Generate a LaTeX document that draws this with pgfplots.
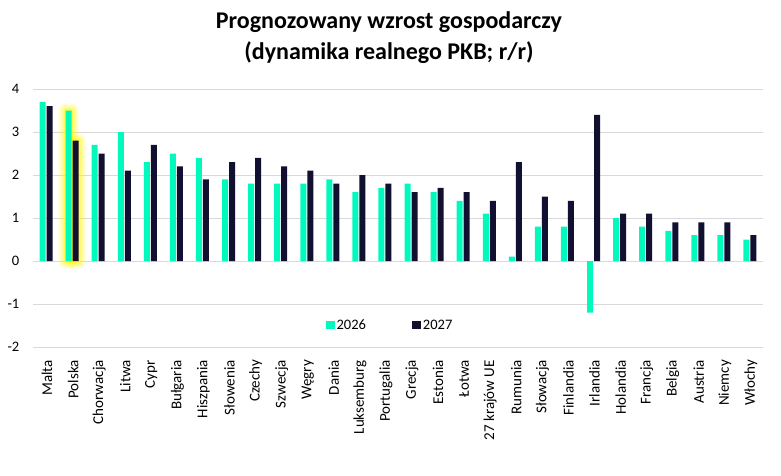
\documentclass[border=0pt]{standalone}
\usepackage{fontspec}
\setmainfont{Carlito}
\usepackage{pgfplots}
\pgfplotsset{compat=1.18}
\usepackage{pgfplotstable}

\definecolor{mint}{RGB}{0,250,190}
\definecolor{navy}{RGB}{17,16,48}
\definecolor{gridgray}{RGB}{217,217,217}
\definecolor{glow}{RGB}{255,248,0}

% GDP growth forecasts, 2026 and 2027
\pgfplotstableread{
idx v26 v27
0  3.7 3.6
1  3.5 2.8
2  2.7 2.5
3  3.0 2.1
4  2.3 2.7
5  2.5 2.2
6  2.4 1.9
7  1.9 2.3
8  1.8 2.4
9  1.8 2.2
10 1.8 2.1
11 1.9 1.8
12 1.6 2.0
13 1.7 1.8
14 1.8 1.6
15 1.6 1.7
16 1.4 1.6
17 1.1 1.4
18 0.1 2.3
19 0.8 1.5
20 0.8 1.4
21 -1.2 3.4
22 1.0 1.1
23 0.8 1.1
24 0.7 0.9
25 0.6 0.9
26 0.6 0.9
27 0.5 0.6
}\gdp

% highlighted country (Polska)
\pgfplotstableread{
idx v26 v27
1 3.5 2.8
}\pol

\pgfplotsset{
  glowpass/.style 2 args={draw=glow, fill=none, line width=#1,
    draw opacity=#2, line join=round, forget plot},
}

\begin{document}
\begin{tikzpicture}
\begin{axis}[
  at={(33pt,128pt)}, anchor=south west,
  scale only axis, width=730pt, height=258pt,
  ybar, bar width=6pt,
  xmin=-0.5, xmax=27.5,
  ymin=-2, ymax=4,
  ytick={-2,-1,0,1,2,3,4},
  yticklabels={-2,-1,0,1,2,3,4},
  xtick={0,...,27},
  xticklabels={Malta,Polska,Chorwacja,Litwa,Cypr,Bułgaria,Hiszpania,Słowenia,Czechy,Szwecja,Węgry,Dania,Luksemburg,Portugalia,Grecja,Estonia,Łotwa,27 krajów UE,Rumunia,Słowacja,Finlandia,Irlandia,Holandia,Francja,Belgia,Austria,Niemcy,Włochy},
  axis line style={draw=none},
  major tick length=0pt,
  ymajorgrids,
  grid style={draw=gridgray, line width=1pt},
  yticklabel style={font=\fontsize{14.5}{16}\selectfont, anchor=east, inner sep=0pt, xshift=-13.5pt},
  xticklabel style={font=\fontsize{15}{16}\selectfont, yshift=-13pt, xshift=1pt, rotate=90, anchor=east, inner sep=0pt},
  legend style={draw=none, fill=none, at={(0.489,0.085)}, anchor=center,
    font=\fontsize{14.5}{16}\selectfont, legend columns=2,
    /tikz/every even column/.append style={column sep=44pt}},
  legend image code/.code={\fill[#1] (0pt,-4pt) rectangle (9pt,4pt);},
  clip=false,
]
% soft glow behind the highlighted bars
\addplot[glowpass={15pt}{0.10}, bar shift=-3.5pt] table[x=idx,y=v26]{\pol};
\addplot[glowpass={12pt}{0.14}, bar shift=-3.5pt] table[x=idx,y=v26]{\pol};
\addplot[glowpass={9pt}{0.18}, bar shift=-3.5pt] table[x=idx,y=v26]{\pol};
\addplot[glowpass={6pt}{0.25}, bar shift=-3.5pt] table[x=idx,y=v26]{\pol};
\addplot[glowpass={3pt}{0.35}, bar shift=-3.5pt] table[x=idx,y=v26]{\pol};
\addplot[glowpass={15pt}{0.10}, bar shift=3.5pt] table[x=idx,y=v27]{\pol};
\addplot[glowpass={12pt}{0.14}, bar shift=3.5pt] table[x=idx,y=v27]{\pol};
\addplot[glowpass={9pt}{0.18}, bar shift=3.5pt] table[x=idx,y=v27]{\pol};
\addplot[glowpass={6pt}{0.25}, bar shift=3.5pt] table[x=idx,y=v27]{\pol};
\addplot[glowpass={3pt}{0.35}, bar shift=3.5pt] table[x=idx,y=v27]{\pol};
% bars
\addplot[fill=mint, draw=none, bar shift=-3.5pt] table[x=idx,y=v26]{\gdp};
\addlegendentry{2026}
\addplot[fill=navy, draw=none, bar shift=3.5pt] table[x=idx,y=v27]{\gdp};
\addlegendentry{2027}
\end{axis}
\node[anchor=base, font=\fontsize{24}{28}\selectfont\bfseries] at (389pt,446pt) {Prognozowany wzrost gospodarczy};
\node[anchor=base, font=\fontsize{24}{28}\selectfont\bfseries] at (389pt,415pt) {(dynamika realnego PKB; r/r)};
\pgfresetboundingbox
\path[use as bounding box] (0,0) rectangle (781pt,475pt);
\end{tikzpicture}
\end{document}
